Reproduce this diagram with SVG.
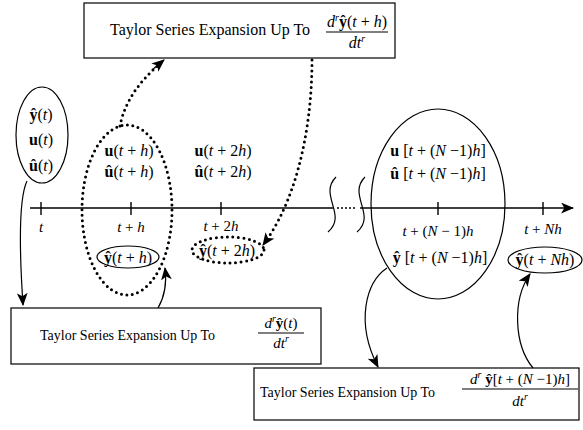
<svg xmlns="http://www.w3.org/2000/svg" width="583" height="430" viewBox="0 0 583 430">
<style>
text{font-family:"Liberation Serif","Times New Roman",serif;font-size:16px;fill:#000}
.s{font-size:14px}
.m{font-size:15px}
.i{font-style:italic}
.b{font-weight:bold}
.sup{font-size:10px;font-style:italic}
.box{fill:#fff;stroke:#000;stroke-width:1.2}
.ln{fill:none;stroke:#000;stroke-width:1.2}
.dot{fill:none;stroke:#000;stroke-width:3;stroke-dasharray:0 5.5;stroke-linecap:round}
.ax{fill:none;stroke:#000;stroke-width:1.4}
</style>
<defs>
<marker id="ah" viewBox="0 0 12 10" refX="11" refY="5" markerWidth="13" markerHeight="11" markerUnits="userSpaceOnUse" orient="auto">
<path d="M0,0 L12,5 L0,10 L3,5 z" fill="#000"/>
</marker>
</defs>

<g id="axis">
<path class="ax" d="M30 208 H333"/>
<path class="ax" d="M337 208 H357" stroke-dasharray="2 2"/>
<path class="ax" d="M360 208 H573" marker-end="url(#ah)"/>
<path class="ax" d="M41 202 V215 M131 202 V215 M221 202 V215 M438 202 V215 M543 202 V215"/>
<path class="ln" d="M336 177 C318 195 348 215 328 232"/>
<path class="ln" d="M365 177 C347 195 377 215 357 232"/>
<text class="m i" x="41" y="232" text-anchor="middle">t</text>
<text class="m" x="131" y="232" text-anchor="middle"><tspan class="i">t</tspan> + <tspan class="i">h</tspan></text>
<text class="m" x="221" y="231" text-anchor="middle"><tspan class="i">t</tspan> + 2<tspan class="i">h</tspan></text>
<text class="m" x="438" y="236" text-anchor="middle"><tspan class="i">t</tspan> + (<tspan class="i">N</tspan> − 1)<tspan class="i">h</tspan></text>
<text class="m" x="543" y="234" text-anchor="middle"><tspan class="i">t</tspan> + <tspan class="i">Nh</tspan></text>
</g>

<g id="node-t">
<ellipse class="ln" cx="42" cy="135" rx="26" ry="48"/>
<text x="41" y="120" text-anchor="middle"><tspan class="b">ŷ</tspan>(<tspan class="i">t</tspan>)</text>
<text x="41" y="145" text-anchor="middle"><tspan class="b">u</tspan>(<tspan class="i">t</tspan>)</text>
<text x="41" y="171" text-anchor="middle"><tspan class="b">û</tspan>(<tspan class="i">t</tspan>)</text>
</g>

<g id="node-th">
<ellipse class="dot" cx="127" cy="210" rx="45" ry="85"/>
<text x="129" y="156" text-anchor="middle"><tspan class="b">u</tspan>(<tspan class="i">t</tspan> + <tspan class="i">h</tspan>)</text>
<text x="129" y="177" text-anchor="middle"><tspan class="b">û</tspan>(<tspan class="i">t</tspan> + <tspan class="i">h</tspan>)</text>
<ellipse class="ln" cx="128" cy="257" rx="31" ry="11"/>
<text x="128" y="263" text-anchor="middle"><tspan class="b">ŷ</tspan>(<tspan class="i">t</tspan> + <tspan class="i">h</tspan>)</text>
</g>

<g id="node-t2h">
<text x="223" y="156" text-anchor="middle"><tspan class="b">u</tspan>(<tspan class="i">t</tspan> + 2<tspan class="i">h</tspan>)</text>
<text x="223" y="177" text-anchor="middle"><tspan class="b">û</tspan>(<tspan class="i">t</tspan> + 2<tspan class="i">h</tspan>)</text>
<ellipse class="dot" cx="228" cy="250" rx="36" ry="13"/>
<text x="227" y="256" text-anchor="middle" textLength="56"><tspan class="b">ŷ</tspan>(<tspan class="i">t</tspan> + 2<tspan class="i">h</tspan>)</text>
</g>

<g id="node-tN1h">
<ellipse class="ln" cx="438" cy="204" rx="67" ry="95"/>
<text x="438" y="156" text-anchor="middle"><tspan class="b">u</tspan> [<tspan class="i">t</tspan> + (<tspan class="i">N</tspan> −1)<tspan class="i">h</tspan>]</text>
<text x="438" y="179" text-anchor="middle"><tspan class="b">û</tspan> [<tspan class="i">t</tspan> + (<tspan class="i">N</tspan> −1)<tspan class="i">h</tspan>]</text>
<text x="440" y="263" text-anchor="middle"><tspan class="b">ŷ</tspan> [<tspan class="i">t</tspan> + (<tspan class="i">N</tspan> −1)<tspan class="i">h</tspan>]</text>
</g>

<g id="node-tNh">
<ellipse class="ln" cx="545" cy="260" rx="37" ry="13"/>
<text x="545" y="265" text-anchor="middle"><tspan class="b">ŷ</tspan>(<tspan class="i">t</tspan> + <tspan class="i">Nh</tspan>)</text>
</g>

<g id="box-top">
<rect class="box" x="84" y="3" width="311" height="55"/>
<text x="110" y="35">Taylor Series Expansion Up To</text>
<text x="357" y="27" text-anchor="middle" class="i">d<tspan class="sup" dy="-6">r</tspan><tspan dy="6" class="b" font-style="normal">ŷ</tspan><tspan font-style="normal">(</tspan>t<tspan font-style="normal"> + </tspan>h<tspan font-style="normal">)</tspan></text>
<path class="ln" d="M326 32 H388"/>
<text x="357" y="48" text-anchor="middle" class="i">dt<tspan class="sup" dy="-6">r</tspan></text>
</g>

<g id="box-left">
<rect class="box" x="11" y="308" width="310" height="56"/>
<text class="s" x="40" y="340">Taylor Series Expansion Up To</text>
<text class="m i" x="281" y="328" text-anchor="middle">d<tspan class="sup" dy="-6">r</tspan><tspan dy="6" class="b" font-style="normal">ŷ</tspan><tspan font-style="normal">(</tspan>t<tspan font-style="normal">)</tspan></text>
<path class="ln" d="M258 333 H304"/>
<text class="m i" x="281" y="348" text-anchor="middle">dt<tspan class="sup" dy="-6">r</tspan></text>
</g>

<g id="box-right">
<rect class="box" x="254" y="368" width="325" height="52"/>
<text class="s" x="260" y="397">Taylor Series Expansion Up To</text>
<text class="m i" x="520" y="384" text-anchor="middle">d<tspan class="sup" dy="-6">r</tspan><tspan dy="6" font-style="normal"> </tspan><tspan class="b" font-style="normal">ŷ</tspan><tspan font-style="normal">[</tspan>t<tspan font-style="normal"> + (</tspan>N<tspan font-style="normal"> −1)</tspan>h<tspan font-style="normal">]</tspan></text>
<path class="ln" d="M462 389 H578"/>
<text class="m i" x="520" y="406" text-anchor="middle">dt<tspan class="sup" dy="-6">r</tspan></text>
</g>

<g id="connectors">
<path class="ln" d="M27 181 C18 200 20 260 23 305" marker-end="url(#ah)"/>
<path class="ln" d="M158 308 C165 296 167 284 165 268" marker-end="url(#ah)"/>
<path class="dot" stroke-width="2.5" d="M120 126 C124 104 138 82 160 64"/>
<path class="ln" d="M152 70 L164 60" marker-end="url(#ah)"/>
<path class="dot" stroke-width="2.5" d="M312 60 C312 120 300 190 268 238"/>
<path class="ln" d="M268 238 L263 245" marker-end="url(#ah)"/>
<path class="ln" d="M387 268 C366 282 355 322 378 367" marker-end="url(#ah)"/>
<path class="ln" d="M533 368 C514 345 512 300 530 274" marker-end="url(#ah)"/>
</g>
</svg>
